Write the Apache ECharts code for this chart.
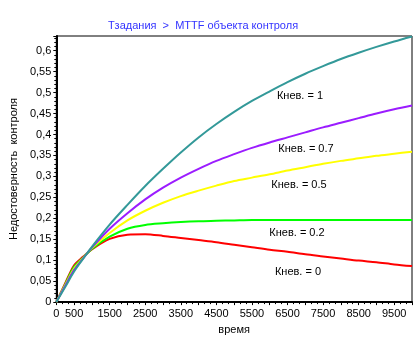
<!DOCTYPE html>
<html>
<head>
<meta charset="utf-8">
<script src="https://cdn.jsdelivr.net/npm/echarts@6/dist/echarts.min.js"></script>
<style>
  html, body { margin: 0; padding: 0; background: #fff; }
  #chart { width: 420px; height: 340px; }
</style>
</head>
<body>
<div id="chart"></div>
<script>
// Time points (x) shared by all curves
var times = [0, 250, 500, 750, 1000, 1500, 2000, 2500, 3000, 3500, 4000, 4500, 5000,
             5500, 6000, 6500, 7000, 7500, 8000, 8500, 9000, 9500, 10000];

// Control unreliability for each Кнев. value
var kn0  = [0, 0.045, 0.088, 0.108, 0.126, 0.151, 0.161, 0.162, 0.158, 0.153, 0.148, 0.143, 0.137,
            0.131, 0.125, 0.120, 0.114, 0.109, 0.104, 0.099, 0.095, 0.090, 0.086];
var kn02 = [0, 0.043, 0.084, 0.106, 0.127, 0.156, 0.175, 0.184, 0.188, 0.191, 0.193, 0.194, 0.195,
            0.196, 0.196, 0.196, 0.196, 0.196, 0.196, 0.196, 0.196, 0.196, 0.196];
var kn05 = [0, 0.041, 0.080, 0.105, 0.129, 0.165, 0.195, 0.218, 0.237, 0.253, 0.266, 0.278, 0.289,
            0.297, 0.305, 0.314, 0.322, 0.330, 0.337, 0.343, 0.349, 0.354, 0.359];
var kn07 = [0, 0.039, 0.077, 0.104, 0.130, 0.175, 0.212, 0.245, 0.273, 0.297, 0.318, 0.337, 0.353,
            0.368, 0.381, 0.393, 0.405, 0.417, 0.428, 0.439, 0.450, 0.460, 0.469];
var kn1  = [0, 0.036, 0.073, 0.103, 0.132, 0.185, 0.232, 0.277, 0.318, 0.357, 0.393, 0.425, 0.454,
            0.480, 0.503, 0.525, 0.545, 0.563, 0.580, 0.595, 0.609, 0.622, 0.634];

var seriesNames = ['Кнев. = 0', 'Кнев. = 0.2', 'Кнев. = 0.5', 'Кнев. = 0.7', 'Кнев. = 1'];
var seriesData = [kn0, kn02, kn05, kn07, kn1];
var seriesColors = ['#ff0000', '#00ff00', '#ffff00', '#9b1cff', '#339999'];

var font = 'Liberation Sans, Arial, sans-serif';

function pairs(vals) {
  return times.map(function (t, i) { return [t, vals[i]]; });
}

var series = seriesData.map(function (vals, i) {
  return {
    name: seriesNames[i],
    type: 'line',
    data: pairs(vals),
    smooth: 0.3,
    showSymbol: false,
    lineStyle: { color: seriesColors[i], width: 2 },
    itemStyle: { color: seriesColors[i] },
    z: 2 + i
  };
});

// In-plot curve captions
var captions = [
  { text: 'Кнев. = 1',   x: 300, y: 96 },
  { text: 'Кнев. = 0.7', x: 306, y: 149 },
  { text: 'Кнев. = 0.5', x: 299, y: 185 },
  { text: 'Кнев. = 0.2', x: 297, y: 233 },
  { text: 'Кнев. = 0',   x: 298, y: 272 }
];

var chart = echarts.init(document.getElementById('chart'));
chart.setOption({
  animation: false,
  backgroundColor: '#ffffff',
  title: {
    text: 'Тзадания  >  MTTF объекта контроля',
    left: 198,
    top: 15,
    textAlign: 'center',
    textStyle: { color: '#3333ff', fontSize: 11, fontWeight: 'normal', fontFamily: font }
  },
  grid: {
    left: 52, right: 8, top: 36, bottom: 34,
    show: true, borderColor: '#000', borderWidth: 1, backgroundColor: '#fff'
  },
  xAxis: {
    type: 'value',
    min: 0, max: 10000, interval: 500,
    name: 'время',
    nameLocation: 'middle',
    nameGap: 21,
    nameTextStyle: { color: '#000', fontSize: 11, fontFamily: font },
    axisLine: { show: true, onZero: false, lineStyle: { color: '#000', width: 2 } },
    axisTick: { show: true, length: 3, lineStyle: { color: '#000' } },
    minorTick: { show: true, splitNumber: 3, length: 2, lineStyle: { color: '#000' } },
    splitLine: { show: false },
    axisLabel: {
      color: '#000', fontSize: 11, fontFamily: font, margin: 6,
      showMaxLabel: false,
      formatter: function (v) {
        return (v === 0 || v % 1000 === 500) ? String(v) : '';
      }
    }
  },
  yAxis: {
    type: 'value',
    min: 0, max: 0.635, interval: 0.05,
    name: 'Недостоверность  контроля',
    nameLocation: 'middle',
    nameGap: 37,
    nameTextStyle: { color: '#000', fontSize: 11, fontFamily: font },
    axisLine: { show: true, onZero: false, lineStyle: { color: '#000', width: 2 } },
    axisTick: { show: true, length: 3, lineStyle: { color: '#000' } },
    minorTick: { show: true, splitNumber: 5, length: 2, lineStyle: { color: '#000' } },
    splitLine: { show: false },
    axisLabel: {
      color: '#000', fontSize: 11, fontFamily: font, margin: 5,
      showMaxLabel: false,
      formatter: function (v) {
        return String(Math.round(v * 100) / 100).replace('.', ',');
      }
    }
  },
  graphic: captions.map(function (c) {
    return {
      type: 'text',
      x: c.x, y: c.y,
      z: 100,
      style: {
        text: c.text, fill: '#000', fontSize: 11, fontFamily: font,
        textAlign: 'center', textVerticalAlign: 'middle'
      }
    };
  }),
  series: series
});
</script>
</body>
</html>
